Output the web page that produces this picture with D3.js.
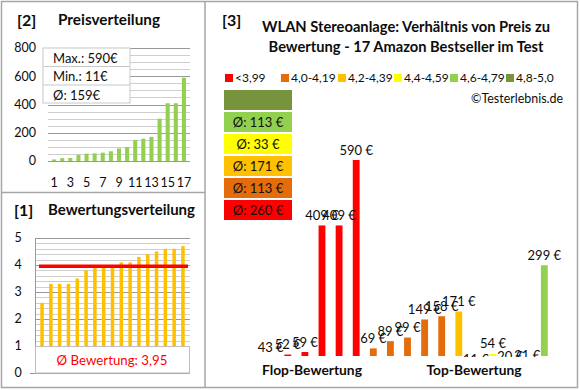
<!DOCTYPE html>
<html>
<head>
<meta charset="utf-8">
<script src="https://cdn.jsdelivr.net/npm/d3@7"></script>
<style>
  body { margin: 0; background: #fff; }
  svg { display: block; font-family: Lato, "Open Sans", sans-serif; }
  .lbl { fill: #0d0d0d; }
</style>
</head>
<body>
<svg width="580" height="390"></svg>
<script>
// --- data ---
var priceRank = [11, 20, 21, 43, 52, 54, 59, 69, 89, 99, 149, 158, 171, 299, 409, 409, 590];
var ratingRank = [2.6, 3.3, 3.3, 3.3, 3.5, 3.8, 4.0, 4.0, 4.0, 4.1, 4.1, 4.3, 4.4, 4.5, 4.6, 4.6, 4.7];
var priceTicks = [0, 200, 400, 600, 800];
var rankTicks = [1, 3, 5, 7, 9, 11, 13, 15, 17];
var ratingTicks = [0, 1, 2, 3, 4, 5];
var statLines = ["Max.: 590€", "Min.: 11€", "Ø: 159€"];
var avgRating = 3.95;

var classNames = ["<3,99", "4,0-4,19", "4,2-4,39", "4,4-4,59", "4,6-4,79", "4,8-5,0"];
var classColors = ["#ff0000", "#e46c0a", "#ffc000", "#ffff00", "#92d050", "#77933c"];
var classAvg = ["Ø: 260 €", "Ø: 113 €", "Ø: 171 €", "Ø: 33 €", "Ø: 113 €", ""];

// products in rating order (flop -> top)
var productPrice = [43, 52, 59, 409, 409, 590, 69, 89, 99, 149, 158, 171, 11, 54, 20, 21, 299];
var productClass = [0, 0, 0, 0, 0, 0, 1, 1, 1, 1, 1, 2, 3, 3, 3, 3, 4];

var svg = d3.select("svg");
var border = "#a6a6a6";

// frames
svg.append("rect").attr("x", 1.5).attr("y", 1.5).attr("width", 576).attr("height", 386)
  .attr("fill", "none").attr("stroke", border).attr("stroke-width", 1.5);
svg.append("line").attr("x1", 205).attr("x2", 205).attr("y1", 1).attr("y2", 388)
  .attr("stroke", border).attr("stroke-width", 1.5);
svg.append("line").attr("x1", 1).attr("x2", 205).attr("y1", 192.5).attr("y2", 192.5)
  .attr("stroke", border).attr("stroke-width", 1.5);

// ===== [2] Preisverteilung =====
var p2 = svg.append("g");
p2.append("text").attr("class", "lbl").attr("x", 17).attr("y", 26)
  .attr("font-size", 16).attr("font-weight", "bold").text("[2]");
p2.append("text").attr("class", "lbl").attr("x", 58).attr("y", 25).attr("data-w", 102)
  .attr("font-size", 13).attr("font-weight", "bold").text("Preisverteilung");

var x2 = d3.scaleBand().domain(d3.range(1, 18)).range([48, 190]).padding(0.5);
var y2 = d3.scaleLinear().domain([0, 800]).range([161, 48]);

p2.selectAll(".g2").data(d3.range(0, 801, 50)).join("line")
  .attr("x1", 48).attr("x2", 190)
  .attr("y1", d => Math.round(y2(d)) + 0.5).attr("y2", d => Math.round(y2(d)) + 0.5)
  .attr("stroke", d => d % 200 === 0 ? "#999" : "#cfcfcf");

p2.selectAll(".b2").data(priceRank).join("rect")
  .attr("x", (d, i) => x2(i + 1)).attr("width", x2.bandwidth())
  .attr("y", d => y2(d)).attr("height", d => y2(0) - y2(d))
  .attr("fill", "#92d050");

p2.selectAll(".yt2").data(priceTicks).join("text").attr("class", "lbl")
  .attr("x", 36).attr("y", d => y2(d)).attr("dy", "0.35em")
  .attr("text-anchor", "end").attr("font-size", 12.5).text(d => d);
p2.selectAll(".xt2").data(rankTicks).join("text").attr("class", "lbl")
  .attr("x", d => x2(d) + x2.bandwidth() / 2).attr("y", 183).attr("dy", "0.35em")
  .attr("text-anchor", "middle").attr("font-size", 12.5).text(d => d);

// stats box
var sb = p2.append("g").attr("transform", "translate(43,48)");
sb.append("rect").attr("width", 87).attr("height", 55).attr("fill", "#fff").attr("stroke", "#c8c8c8");
sb.selectAll(".sep").data([1, 2]).join("line")
  .attr("x1", 0).attr("x2", 87).attr("y1", d => d * 18.5).attr("y2", d => d * 18.5)
  .attr("stroke", "#c8c8c8");
sb.selectAll(".st").data(statLines).join("text").attr("class", "lbl")
  .attr("x", 10).attr("y", (d, i) => 10.5 + i * 18.3).attr("dy", "0.35em")
  .attr("font-size", 13).text(d => d);

// ===== [1] Bewertungsverteilung =====
var p1 = svg.append("g");
p1.append("text").attr("class", "lbl").attr("x", 14).attr("y", 216)
  .attr("font-size", 16).attr("font-weight", "bold").text("[1]");
p1.append("text").attr("class", "lbl").attr("x", 48).attr("y", 215).attr("data-w", 147)
  .attr("font-size", 13).attr("font-weight", "bold").text("Bewertungsverteilung");

var x1 = d3.scaleBand().domain(d3.range(1, 18)).range([35, 190]).padding(0.6);
var y1 = d3.scaleLinear().domain([0, 5]).range([373, 238]);

p1.selectAll(".g1").data(d3.range(0, 26)).join("line")
  .attr("x1", 35).attr("x2", 190)
  .attr("y1", d => Math.round(y1(d / 5)) + 0.5).attr("y2", d => Math.round(y1(d / 5)) + 0.5)
  .attr("stroke", d => d % 5 === 0 ? "#999" : "#cfcfcf");
p1.append("line").attr("x1", 35.5).attr("x2", 35.5).attr("y1", 238).attr("y2", 373)
  .attr("stroke", "#999");
p1.append("line").attr("x1", 30).attr("x2", 35).attr("y1", 373.5).attr("y2", 373.5)
  .attr("stroke", "#999");

p1.selectAll(".b1").data(ratingRank).join("rect")
  .attr("x", (d, i) => x1(i + 1)).attr("width", x1.bandwidth())
  .attr("y", d => y1(d)).attr("height", d => y1(1) - y1(d))
  .attr("fill", "#ffc000");

p1.append("line").attr("x1", 39).attr("x2", 188)
  .attr("y1", y1(avgRating)).attr("y2", y1(avgRating))
  .attr("stroke", "#ff0000").attr("stroke-width", 3.5);

p1.selectAll(".yt1").data(ratingTicks).join("text").attr("class", "lbl")
  .attr("x", 18).attr("y", d => y1(d)).attr("dy", "0.35em")
  .attr("text-anchor", "middle").attr("font-size", 12.5).text(d => d);

p1.append("rect").attr("x", 35.5).attr("y", y1(1) + 0.5).attr("width", 154).attr("height", y1(0) - y1(1) - 0.5)
  .attr("fill", "#fff").attr("stroke", "#bfbfbf");
p1.append("text").attr("x", 112).attr("y", 360).attr("dy", "0.35em").attr("data-w", 111)
  .attr("text-anchor", "middle").attr("font-size", 14).attr("fill", "#ff0000")
  .text("Ø Bewertung: " + String(avgRating).replace(".", ","));

// ===== [3] Preis vs. Bewertung =====
var p3 = svg.append("g");
p3.append("text").attr("class", "lbl").attr("x", 222).attr("y", 26)
  .attr("font-size", 16).attr("font-weight", "bold").text("[3]");
p3.selectAll(".tt").data(["WLAN Stereoanlage: Verhältnis von Preis zu",
                          "Bewertung - 17 Amazon Bestseller im Test"]).join("text")
  .attr("class", "lbl").attr("x", 406).attr("y", (d, i) => 27 + i * 19.5).attr("dy", "0.35em")
  .attr("data-w", (d, i) => i ? 275 : 288)
  .attr("text-anchor", "middle").attr("font-size", 15).attr("font-weight", "bold").text(d => d);

// legend
var legX = [225, 281, 338, 394, 450, 506];
var leg = p3.selectAll(".leg").data(classNames).join("g")
  .attr("transform", (d, i) => "translate(" + legX[i] + ",78)");
leg.append("rect").attr("x", 0).attr("y", -4).attr("width", 8).attr("height", 8)
  .attr("fill", (d, i) => classColors[i]);
leg.append("text").attr("class", "lbl").attr("x", 10).attr("dy", "0.35em")
  .attr("font-size", 12).text(d => d);

p3.append("text").attr("class", "lbl").attr("x", 563).attr("y", 99).attr("dy", "0.35em")
  .attr("data-w", 92)
  .attr("text-anchor", "end").attr("font-size", 12).text("©Testerlebnis.de");

// average boxes, red at the bottom
var boxes = p3.selectAll(".avg").data(classAvg).join("g")
  .attr("transform", (d, i) => "translate(224," + (200 - i * 22) + ")");
boxes.append("rect").attr("width", 68).attr("height", 20)
  .attr("fill", (d, i) => classColors[i]);
boxes.append("text").attr("x", 34).attr("y", 10).attr("dy", "0.35em")
  .attr("text-anchor", "middle").attr("font-size", 13).attr("fill", "#111").text(d => d);

// bars
var x3 = d3.scaleBand().domain(d3.range(productPrice.length)).range([257, 558]).padding(0.6);
var y3 = d3.scaleLinear().domain([48, 590]).range([356, 160]);

svg.append("defs").append("clipPath").attr("id", "plot3")
  .append("rect").attr("x", 240).attr("y", 100).attr("width", 330).attr("height", 257);

var plot3 = p3.append("g").attr("clip-path", "url(#plot3)");
plot3.selectAll(".b3").data(productPrice).join("rect")
  .attr("x", (d, i) => x3(i)).attr("width", x3.bandwidth())
  .attr("y", d => Math.min(y3(d), y3(48))).attr("height", d => Math.max(0, y3(48) - y3(d)))
  .attr("fill", (d, i) => classColors[productClass[i]]);
plot3.selectAll(".v3").data(productPrice).join("text").attr("class", "lbl")
  .attr("x", (d, i) => x3(i) + x3.bandwidth() / 2).attr("y", d => y3(d) - 10).attr("dy", "0.35em")
  .attr("text-anchor", "middle").attr("font-size", 13).text(d => d + " €");

p3.append("text").attr("class", "lbl").attr("x", 312).attr("y", 370).attr("dy", "0.35em")
  .attr("data-w", 100)
  .attr("text-anchor", "middle").attr("font-size", 14).attr("font-weight", "bold").text("Flop-Bewertung");
p3.append("text").attr("class", "lbl").attr("x", 474).attr("y", 370).attr("dy", "0.35em")
  .attr("data-w", 95)
  .attr("text-anchor", "middle").attr("font-size", 14).attr("font-weight", "bold").text("Top-Bewertung");

// scale a few headings so their width matches the reference
svg.selectAll("text[data-w]").each(function () {
  var w = +this.getAttribute("data-w"),
      fs = parseFloat(this.getAttribute("font-size")),
      len = this.getComputedTextLength();
  if (len > 0) this.setAttribute("font-size", (fs * w / len).toFixed(2));
});
</script>
</body>
</html>
